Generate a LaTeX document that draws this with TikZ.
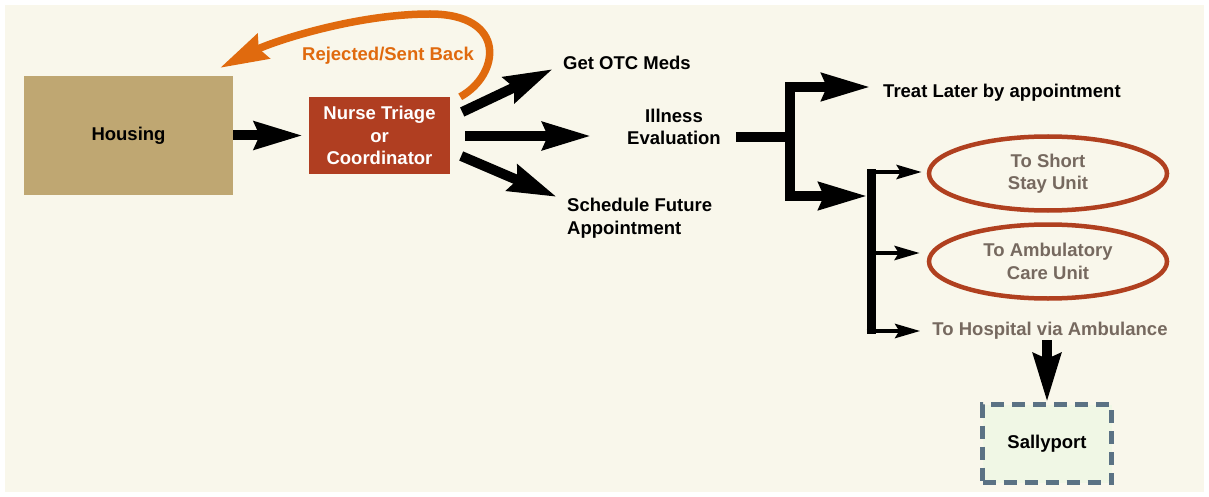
\documentclass[tikz,border=0pt]{standalone}
\usepackage{fontspec}
\setmainfont{Liberation Sans}
\usetikzlibrary{arrows.meta,shapes.geometric,calc}
\definecolor{bgcream}{HTML}{F9F7EB}
\definecolor{houseC}{HTML}{BFA772}
\definecolor{nurseC}{HTML}{B03E21}
\definecolor{orangeC}{HTML}{E06A0E}
\definecolor{ellC}{HTML}{B0401F}
\definecolor{greyC}{HTML}{76695F}
\definecolor{sallyB}{HTML}{5B7284}
\definecolor{sallyF}{HTML}{F0F7E5}
\tikzset{
  lbl/.style={font=\bfseries\fontsize{18.5}{22.5}\selectfont, inner sep=0pt, text=black},
  greylbl/.style={lbl, text=greyC},
  housebox/.style={lbl, fill=houseC, minimum width=209pt, minimum height=119pt},
  nursebox/.style={lbl, fill=nurseC, text=white, align=center, minimum width=141pt, minimum height=77pt},
  unitell/.style={greylbl, ellipse, draw=ellC, line width=4.5pt, align=center, minimum width=238pt, minimum height=74pt},
  sallybox/.style={lbl, draw=sallyB, fill=sallyF, line width=5pt, dash pattern=on 13pt off 8pt, minimum width=129pt, minimum height=78pt},
  bighead/.tip={Stealth[length=48pt,width=27pt,inset=5pt]},
  smallhead/.tip={Stealth[length=25pt,width=14pt,inset=4pt]},
  bigarrow/.style={line width=10pt, -bighead},
  smallarrow/.style={line width=4.5pt, -smallhead},
  orangearrow/.style={draw=orangeC, line width=7.5pt, -{Stealth[length=48pt,width=27pt,inset=5pt]}},
}
\begin{document}
\begin{tikzpicture}[x=1pt,y=-1pt]
\useasboundingbox (0,0) rectangle (1209,497);
\fill[white] (0,0) rectangle (1209,497);
\fill[bgcream] (5,5) rectangle (1204,492);

% nodes
\node[housebox] (housing) at (128.5,135.5) {Housing};
\node[nursebox] (nurse) at (379.5,135.5) {Nurse Triage\\or\\Coordinator};
\node[lbl, text=orangeC] (rej) at (388,55.5) {Rejected/Sent Back};
\node[lbl, anchor=west] (otc) at (563,63) {Get OTC Meds};
\node[lbl, align=center] (illness) at (674,127) {Illness\\Evaluation};
\node[lbl, align=left, anchor=west] (sched) at (567,218) {Schedule Future\\Appointment};
\node[lbl, anchor=west] (treat) at (883,92.5) {Treat Later by appointment};
\node[unitell] (short) at (1048,173.5) {To Short\\Stay Unit};
\node[unitell] (amb) at (1048,261.5) {To Ambulatory\\Care Unit};
\node[greylbl] (hosp) at (1050,330.5) {To Hospital via Ambulance};
\node[sallybox] (sally) at (1047,443.5) {Sallyport};

% connectors
\draw[bigarrow] (housing.east) -- ([xshift=-6pt]nurse.west);
\draw[orangearrow] ([xshift=10pt]nurse.north east)
  .. controls (500,75) and (508,14) .. (430,14)
  .. controls (355,14) and (272,42) .. ([shift={(-13,-8)}]housing.north east);
\draw[bigarrow] ([shift={(12,-23.5)}]nurse.east) -- ([shift={(-10,6)}]otc.west);
\draw[bigarrow] ([shift={(15,0.5)}]nurse.east) -- ([shift={(-36,9)}]illness.west);
\draw[bigarrow] ([shift={(11,20.5)}]nurse.east) -- ([shift={(-10,-21)}]sched.west);

% first branch
\coordinate (j1) at (790,137);
\coordinate (jt) at (790,87);
\coordinate (jb) at (790,196);
\coordinate (kt) at (871,169.5);
\coordinate (kb) at (871,333.5);
\draw[line width=10pt] ([shift={(15,10)}]illness.east) -- (j1);
\draw[line width=9.5pt, bighead-bighead, line join=miter]
  ([shift={(-13,-5.5)}]treat.west) -- (jt) -- (jb) -- ([xshift=-4pt]kt |- jb);

% second branch
\draw[line width=9pt] (kt) -- (kb);
\coordinate (shortin) at ([shift={(-5,-1.5)}]short.west);
\coordinate (ambin) at ([shift={(-7,-8.5)}]amb.west);
\coordinate (hospin) at ([shift={(-12,0.5)}]hosp.west);
\draw[smallarrow] (kt |- shortin) -- (shortin);
\draw[smallarrow] (kt |- ambin) -- (ambin);
\draw[smallarrow] ([xshift=-4.5pt]kt |- hospin) -- (hospin);

% down to sallyport
\draw[bigarrow] ([yshift=-1pt]sally.north |- hosp.south) -- (sally.north);
\end{tikzpicture}
\end{document}
